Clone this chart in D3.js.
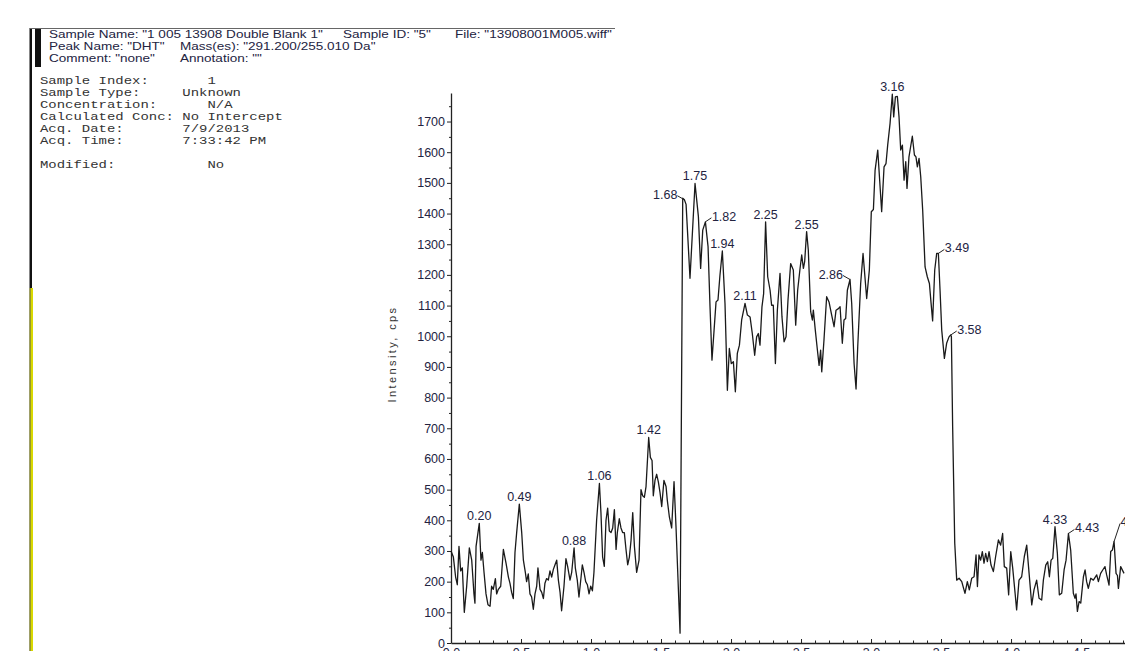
<!DOCTYPE html>
<html>
<head>
<meta charset="utf-8">
<script src="https://cdn.jsdelivr.net/npm/d3@7"></script>
<style>
  body { margin: 0; background: #fff; }
  svg { display: block; }
  text { font-family: "Liberation Sans", Arial, sans-serif; }
</style>
</head>
<body>
<svg id="chart" width="1125" height="651"></svg>
<script>
// header text
const headerRows = [
    ['Sample Name: "1 005 13908 Double Blank 1"', 'Sample ID: "5"', 'File: "13908001M005.wiff"'],
    ['Peak Name: "DHT"', 'Mass(es): "291.200/255.010 Da"'],
    ['Comment: "none"', 'Annotation: ""']
];
const infoLines = [
    "Sample Index:       1",
    "Sample Type:     Unknown",
    "Concentration:      N/A",
    "Calculated Conc: No Intercept",
    "Acq. Date:       7/9/2013",
    "Acq. Time:       7:33:42 PM",
    "",
    "Modified:           No"
];

// axis ticks
const yTickValues = [0, 100, 200, 300, 400, 500, 600, 700, 800, 900, 1000, 1100, 1200, 1300, 1400, 1500, 1600, 1700];
const xTickValues = [0.0, 0.5, 1.0, 1.5, 2.0, 2.5, 3.0, 3.5, 4.0, 4.5];

// peak labels (min)
const peakTimes = [0.20, 0.49, 0.88, 1.06, 1.42, 1.68, 1.75, 1.82, 1.94, 2.11, 2.25, 2.55, 2.86, 3.16, 3.49, 3.58, 4.33, 4.43, 4.74];
const peakText = ["0.20", "0.49", "0.88", "1.06", "1.42", "1.68", "1.75", "1.82", "1.94", "2.11", "2.25", "2.55", "2.86", "3.16", "3.49", "3.58", "4.33", "4.43", "4.74"];

// XIC trace: [time (min), intensity (cps)]
const trace = [
    [0.000, 300], [0.017, 280], [0.033, 215], [0.045, 190], [0.057, 315], [0.069, 235], [0.081, 245], [0.095, 100],
    [0.112, 185], [0.131, 310], [0.148, 270], [0.164, 160], [0.171, 130], [0.179, 315], [0.202, 390], [0.214, 270],
    [0.224, 295], [0.236, 230], [0.250, 160], [0.264, 125], [0.279, 120], [0.290, 185], [0.302, 175], [0.317, 210],
    [0.326, 160], [0.338, 175], [0.355, 185], [0.374, 305], [0.393, 260], [0.410, 215], [0.421, 195], [0.433, 165],
    [0.445, 145], [0.457, 295], [0.469, 360], [0.488, 453], [0.505, 360], [0.517, 270], [0.531, 230], [0.540, 200],
    [0.552, 225], [0.564, 160], [0.576, 150], [0.588, 110], [0.600, 160], [0.612, 185], [0.621, 245], [0.636, 175],
    [0.648, 165], [0.660, 145], [0.671, 195], [0.683, 210], [0.695, 205], [0.707, 235], [0.719, 215], [0.731, 240],
    [0.743, 255], [0.755, 270], [0.767, 205], [0.779, 165], [0.790, 105], [0.807, 185], [0.821, 275], [0.833, 250],
    [0.850, 205], [0.862, 230], [0.879, 310], [0.888, 245], [0.902, 205], [0.914, 150], [0.929, 215], [0.938, 255],
    [0.950, 230], [0.962, 200], [0.974, 190], [0.986, 160], [0.998, 185], [1.010, 170], [1.021, 230], [1.040, 400],
    [1.060, 520], [1.071, 425], [1.083, 280], [1.095, 250], [1.107, 400], [1.119, 440], [1.131, 365], [1.143, 360],
    [1.155, 375], [1.167, 435], [1.179, 305], [1.188, 360], [1.202, 405], [1.214, 375], [1.226, 360], [1.238, 360],
    [1.250, 305], [1.262, 255], [1.274, 280], [1.286, 335], [1.298, 425], [1.310, 315], [1.326, 230], [1.343, 270],
    [1.357, 500], [1.369, 480], [1.381, 475], [1.393, 510], [1.412, 670], [1.424, 605], [1.436, 595], [1.445, 480],
    [1.457, 530], [1.469, 550], [1.481, 525], [1.493, 490], [1.505, 445], [1.521, 530], [1.536, 510], [1.545, 465],
    [1.560, 410], [1.576, 375], [1.593, 526], [1.607, 380], [1.636, 32], [1.655, 1450], [1.667, 1445], [1.679, 1430],
    [1.707, 1189], [1.743, 1498], [1.767, 1390], [1.783, 1221], [1.798, 1346], [1.817, 1373], [1.836, 1292], [1.850, 1096],
    [1.864, 922], [1.879, 1020], [1.893, 1112], [1.907, 1118], [1.921, 1199], [1.938, 1278], [1.957, 1107], [1.974, 824],
    [1.988, 960], [2.002, 911], [2.017, 917], [2.031, 819], [2.045, 944], [2.060, 971], [2.076, 1053], [2.100, 1107],
    [2.117, 1069], [2.136, 1063], [2.152, 1009], [2.169, 938], [2.183, 998], [2.195, 1009], [2.207, 971], [2.221, 1096],
    [2.233, 1139], [2.247, 1373], [2.262, 1194], [2.279, 1150], [2.290, 1101], [2.302, 1101], [2.317, 911], [2.331, 1085],
    [2.350, 1205], [2.364, 1063], [2.379, 982], [2.393, 998], [2.407, 1118], [2.426, 1237], [2.445, 1216], [2.462, 1036],
    [2.476, 1150], [2.493, 1221], [2.505, 1265], [2.517, 1221], [2.526, 1243], [2.540, 1341], [2.552, 1281], [2.569, 1080],
    [2.581, 1053], [2.588, 1085], [2.602, 1020], [2.617, 955], [2.629, 905], [2.640, 955], [2.648, 884], [2.664, 988],
    [2.683, 1129], [2.700, 1112], [2.719, 1069], [2.736, 1031], [2.750, 1085], [2.767, 1090], [2.779, 1096], [2.795, 977],
    [2.807, 1053], [2.819, 1058], [2.831, 1150], [2.850, 1185], [2.862, 1107], [2.879, 911], [2.893, 828], [2.905, 966],
    [2.926, 1172], [2.943, 1270], [2.969, 1123], [2.988, 1216], [3.002, 1406], [3.017, 1413], [3.029, 1541], [3.048, 1607],
    [3.076, 1406], [3.093, 1552], [3.107, 1563], [3.119, 1623], [3.136, 1694], [3.152, 1789], [3.162, 1715], [3.174, 1780],
    [3.188, 1782], [3.200, 1715], [3.212, 1607], [3.224, 1623], [3.236, 1509], [3.248, 1569], [3.257, 1482], [3.271, 1585],
    [3.295, 1652], [3.310, 1591], [3.321, 1585], [3.331, 1552], [3.343, 1580], [3.355, 1520], [3.369, 1411], [3.386, 1226],
    [3.402, 1194], [3.417, 1172], [3.429, 1107], [3.440, 1050], [3.455, 1216], [3.469, 1270], [3.481, 1270], [3.493, 1150],
    [3.505, 1020], [3.524, 928], [3.540, 977], [3.557, 998], [3.569, 1004], [3.574, 1000], [3.583, 705], [3.598, 325],
    [3.612, 205], [3.629, 211], [3.648, 200], [3.671, 162], [3.688, 200], [3.702, 173], [3.719, 211], [3.736, 216],
    [3.750, 287], [3.760, 184], [3.771, 287], [3.783, 270], [3.795, 298], [3.807, 260], [3.819, 292], [3.831, 265],
    [3.843, 298], [3.857, 254], [3.874, 233], [3.890, 282], [3.910, 336], [3.926, 319], [3.940, 357], [3.952, 249],
    [3.969, 244], [3.983, 157], [3.998, 298], [4.012, 244], [4.029, 162], [4.040, 108], [4.057, 205], [4.076, 216],
    [4.095, 282], [4.112, 319], [4.129, 227], [4.148, 124], [4.164, 173], [4.183, 205], [4.200, 146], [4.219, 140],
    [4.231, 205], [4.248, 254], [4.262, 265], [4.274, 216], [4.286, 270], [4.298, 276], [4.314, 379], [4.331, 292],
    [4.345, 157], [4.362, 162], [4.379, 238], [4.393, 270], [4.410, 357], [4.426, 303], [4.445, 162], [4.457, 146],
    [4.464, 160], [4.474, 103], [4.486, 135], [4.498, 130], [4.517, 216], [4.529, 238], [4.540, 200], [4.552, 178],
    [4.569, 211], [4.588, 205], [4.612, 222], [4.624, 200], [4.640, 227], [4.655, 238], [4.671, 249], [4.683, 222],
    [4.700, 189], [4.712, 298], [4.724, 303], [4.736, 331], [4.750, 227], [4.760, 220], [4.767, 178], [4.783, 249],
    [4.807, 227]
];

const svg = d3.select("#chart");
const ink = "#23233f";

// left margin bars of the report page
svg.append("rect").attr("x", 29.5).attr("y", 28).attr("width", 2.5).attr("height", 260).attr("fill", "#111");
svg.append("rect").attr("x", 29.5).attr("y", 288).attr("width", 3.5).attr("height", 363).attr("fill", "#d8d800");
svg.append("rect").attr("x", 29.5).attr("y", 288).attr("width", 1).attr("height", 363).attr("fill", "#555");
svg.append("rect").attr("x", 35).attr("y", 28).attr("width", 6).attr("height", 39).attr("fill", "#111");
svg.append("line").attr("x1", 30).attr("x2", 615).attr("y1", 28.5).attr("y2", 28.5)
    .attr("stroke", "#666").attr("stroke-width", 1);

// header (sans, stretched horizontally like the scanned report)
const hx = 49, hs = 1.29;
const segX = [[49, 343, 455], [49, 180], [49, 180]];
const header = svg.append("g").attr("transform", `translate(${hx},0) scale(${hs},1)`)
    .attr("font-size", "10.5px").attr("fill", ink);
headerRows.forEach((row, i) => {
    row.forEach((s, j) => {
        header.append("text")
            .attr("x", (segX[i][j] - hx) / hs)
            .attr("y", 38.5 + i * 12)
            .text(s);
    });
});

// sample info (monospace)
const info = svg.append("g").attr("transform", "translate(40,0) scale(1.33,1)")
    .attr("font-size", "10.5px").attr("fill", "#333");
info.selectAll("text")
    .data(infoLines)
    .join("text")
    .attr("xml:space", "preserve")
    .style("white-space", "pre")
    .style("font-family", "'Liberation Mono', 'DejaVu Sans Mono', monospace")
    .attr("x", 0)
    .attr("y", (d, i) => 84 + i * 12)
    .text(d => d);

// scales
const x = d3.scaleLinear().domain([0, 4.814]).range([451, 1125]);
const y = d3.scaleLinear().domain([0, 1793]).range([643, 93]);

// y axis
const yAxis = svg.append("g").attr("transform", `translate(${x(0)},0)`)
    .call(d3.axisLeft(y).tickValues(yTickValues).tickSize(4).tickSizeOuter(0).tickPadding(2).tickFormat(d3.format("d")));
yAxis.select(".domain").attr("stroke", "#222").attr("stroke-width", 1.3);
yAxis.selectAll(".tick line").attr("stroke", "#222");
yAxis.selectAll(".tick text").attr("font-size", "12.5px").attr("fill", ink)
    .attr("font-family", "'Liberation Sans', Arial, sans-serif");
svg.append("g").attr("transform", `translate(${x(0)},0)`)
    .call(d3.axisLeft(y).tickValues(d3.range(50, 1793, 100)).tickSize(2).tickSizeOuter(0).tickFormat(""))
    .call(g => g.select(".domain").remove())
    .selectAll(".tick line").attr("stroke", "#222");

// x axis (labels fall below the page edge, as in the source)
const xAxis = svg.append("g").attr("transform", `translate(0,${y(0)})`)
    .call(d3.axisBottom(x).tickValues(xTickValues).tickSize(-4).tickSizeOuter(0).tickPadding(5).tickFormat(d3.format(".1f")));
xAxis.select(".domain").attr("stroke", "#222").attr("stroke-width", 1.3);
xAxis.selectAll(".tick line").attr("stroke", "#222");
xAxis.selectAll(".tick text").attr("font-size", "12.5px").attr("fill", ink)
    .attr("font-family", "'Liberation Sans', Arial, sans-serif");
svg.append("g").attr("transform", `translate(0,${y(0)})`)
    .call(d3.axisBottom(x).tickValues(d3.range(0.1, 4.81, 0.1).filter(d => Math.abs(d * 2 - Math.round(d * 2)) > 0.01))
        .tickSize(-2.5).tickSizeOuter(0).tickFormat(""))
    .call(g => g.select(".domain").remove())
    .selectAll(".tick line").attr("stroke", "#222");

// y axis title
svg.append("text")
    .attr("transform", `translate(395.5,354) rotate(-90)`)
    .attr("text-anchor", "middle")
    .attr("font-size", "11px")
    .attr("letter-spacing", "2.4px")
    .attr("fill", "#333")
    .text("Intensity, cps");

// trace
const line = d3.line().x(d => x(d[0])).y(d => y(d[1]));
svg.append("path")
    .datum(trace)
    .attr("fill", "none")
    .attr("stroke", "#1a1a1a")
    .attr("stroke-width", 1.3)
    .attr("stroke-linejoin", "round")
    .attr("d", line);

// peak labels: centred above, or placed left / right with a short leader
const side = {"1.68": "l", "2.86": "l", "1.82": "r", "3.49": "r", "3.58": "r", "4.43": "r", "4.74": "r"};
const peaks = peakTimes.map((t, i) => {
    const near = trace.filter(d => Math.abs(d[0] - t) <= 0.02);
    const top = d3.greatest(near, d => d[1]);
    return {text: peakText[i], px: x(top[0]), py: y(top[1]), mode: side[peakText[i]] || "c"};
});
const lab = svg.append("g").attr("font-size", "12.5px").attr("fill", ink);
peaks.forEach(p => {
    if (p.mode === "c") {
        lab.append("text").attr("x", p.px).attr("y", p.py - 3).attr("text-anchor", "middle").text(p.text);
    } else if (p.mode === "l") {
        lab.append("line").attr("x1", p.px).attr("y1", p.py).attr("x2", p.px - 7).attr("y2", p.py - 4)
            .attr("stroke", "#222").attr("stroke-width", 1);
        lab.append("text").attr("x", p.px - 7).attr("y", p.py - 1).attr("text-anchor", "end").text(p.text);
    } else {
        const dy = p.text === "4.74" ? -14 : 0;
        lab.append("line").attr("x1", p.px).attr("y1", p.py).attr("x2", p.px + 6).attr("y2", p.py - 4 + dy)
            .attr("stroke", "#222").attr("stroke-width", 1);
        lab.append("text").attr("x", p.px + 6.5).attr("y", p.py - 1 + dy).attr("text-anchor", "start").text(p.text);
    }
});
</script>
</body>
</html>
